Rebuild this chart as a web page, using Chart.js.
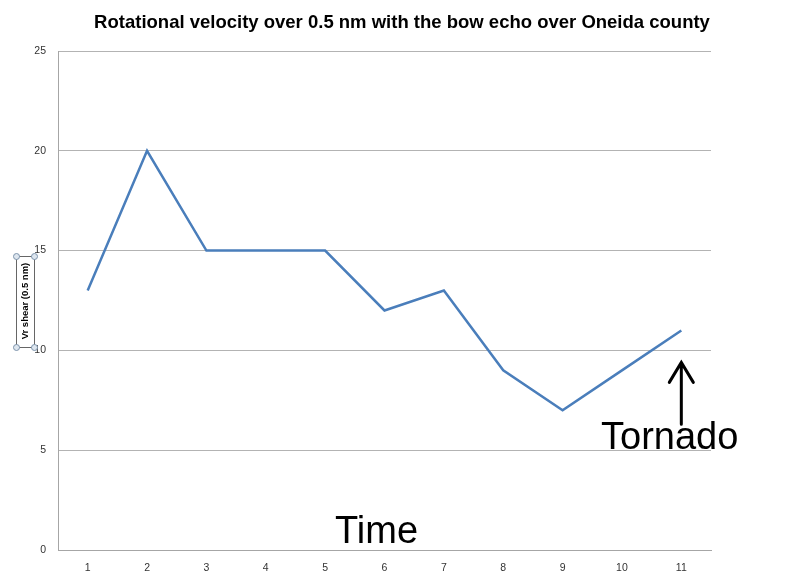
<!DOCTYPE html>
<html>
<head>
<meta charset="utf-8">
<script src="https://cdn.jsdelivr.net/npm/chart.js@4/dist/chart.umd.min.js"></script>
<style>
html,body{margin:0;padding:0;background:#fff;}
#wrap{width:800px;height:582px;position:relative;}
</style>
</head>
<body>
<div id="wrap"><canvas id="c" width="800" height="582"></canvas></div>
<script>
const categories = ['1','2','3','4','5','6','7','8','9','10','11'];
const vrShear = [13, 20, 15, 15, 15, 12, 13, 9, 7, 9, 11];
const yTicks = [0, 5, 10, 15, 20, 25];
const titleText = 'Rotational velocity over 0.5 nm with the bow echo over Oneida county';
const yTitleText = 'Vr shear (0.5 nm)';
const xNoteText = 'Time';
const tornadoText = 'Tornado';
const tornadoIndex = 10;

const overlay = {
  id: 'overlay',
  afterDraw(chart) {
    const ctx = chart.ctx;
    const xs = chart.scales.x, ys = chart.scales.y;
    ctx.save();
    // title
    ctx.fillStyle = '#000';
    ctx.font = 'bold 18.5px "Liberation Sans", Arial, sans-serif';
    ctx.textAlign = 'center';
    ctx.textBaseline = 'middle';
    ctx.fillText(titleText, 402, 23);
    // y axis title with selection box
    ctx.save();
    ctx.translate(25, 301);
    ctx.rotate(-Math.PI / 2);
    ctx.font = 'bold 9.5px "Liberation Sans", Arial, sans-serif';
    ctx.fillStyle = '#000';
    ctx.fillText(yTitleText, 0, 0);
    ctx.restore();
    ctx.strokeStyle = '#666';
    ctx.lineWidth = 1;
    ctx.strokeRect(16.5, 256.5, 18, 91);
    ctx.fillStyle = '#dde6ef';
    ctx.strokeStyle = '#7d93ab';
    [[16.5,256.5],[34.5,256.5],[16.5,347.5],[34.5,347.5]].forEach(p => {
      ctx.beginPath(); ctx.arc(p[0], p[1], 3, 0, Math.PI*2); ctx.fill(); ctx.stroke();
    });
    // Time
    ctx.fillStyle = '#000';
    ctx.font = '38px "Liberation Sans", Arial, sans-serif';
    ctx.textAlign = 'left';
    ctx.textBaseline = 'alphabetic';
    ctx.fillText(xNoteText, 335, 543);
    // Tornado
    ctx.font = '38px "Liberation Sans", Arial, sans-serif';
    ctx.fillText(tornadoText, 601, 449);
    // arrow
    const ax = xs.getPixelForValue(tornadoIndex);
    const tipY = ys.getPixelForValue(9.4);
    const baseY = ys.getPixelForValue(6.3);
    ctx.strokeStyle = '#000';
    ctx.lineWidth = 3;
    ctx.lineCap = 'round';
    ctx.beginPath();
    ctx.moveTo(ax, baseY); ctx.lineTo(ax, tipY);
    ctx.moveTo(ax - 12, tipY + 20); ctx.lineTo(ax, tipY); ctx.lineTo(ax + 12, tipY + 20);
    ctx.stroke();
    ctx.restore();
  }
};

new Chart(document.getElementById('c'), {
  type: 'line',
  data: {
    labels: categories,
    datasets: [{
      data: vrShear,
      borderColor: '#4a7ebb',
      borderWidth: 2.5,
      pointRadius: 0,
      tension: 0,
      fill: false
    }]
  },
  options: {
    responsive: false,
    animation: false,
    layout: { padding: { left: 0, right: 89, top: 51, bottom: 0 } },
    plugins: { legend: { display: false }, title: { display: false }, tooltip: { enabled: false } },
    scales: {
      x: {
        offset: true,
        grid: { display: false, offset: true },
        border: { display: true, color: '#a6a6a6', width: 1 },
        ticks: { color: '#333', font: { size: 10.5, family: '"Liberation Sans", Arial, sans-serif' }, padding: 4, maxRotation: 0 },
        afterFit(s) { s.height = 32; }
      },
      y: {
        min: 0, max: 25,
        afterBuildTicks(s) { s.ticks = yTicks.map(v => ({ value: v })); },
        grid: { color: '#b3b3b3', drawTicks: false },
        border: { display: true, color: '#a6a6a6', width: 1 },
        ticks: { color: '#333', font: { size: 10.5, family: '"Liberation Sans", Arial, sans-serif' }, padding: 12 },
        afterFit(s) { s.width = 58; }
      }
    }
  },
  plugins: [overlay]
});
</script>
</body>
</html>
